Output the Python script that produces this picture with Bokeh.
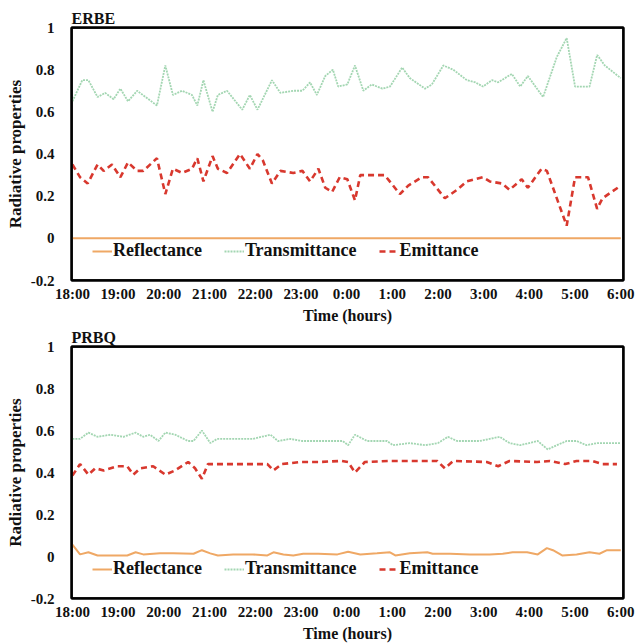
from bokeh.plotting import figure
from bokeh.models import FixedTicker, Range1d, ColumnDataSource, LinearAxis, Span
from bokeh.layouts import column
from bokeh.embed import file_html
from bokeh.resources import INLINE

# ---------------- data ----------------
hour_ticks = [0, 1, 2, 3, 4, 5, 6, 7, 8, 9, 10, 11, 12]
hour_labels = ["18:00", "19:00", "20:00", "21:00", "22:00", "23:00", "0:00",
               "1:00", "2:00", "3:00", "4:00", "5:00", "6:00"]
y_ticks = [-0.2, 0.0, 0.2, 0.4, 0.6, 0.8, 1.0]
y_labels = ["-0.2", "0", "0.2", "0.4", "0.6", "0.8", "1"]
series_names = ["Reflectance", "Transmittance", "Emittance"]

# ERBE (minutes after 18:00)
erbe_refl_t = [0, 60, 120, 180, 240, 300, 360, 420, 480, 540, 600, 660, 720]
erbe_refl_v = [0.0, 0.0, 0.0, 0.0, 0.0, 0.0, 0.0, 0.0, 0.0, 0.0, 0.0, 0.0, 0.0]

erbe_trans_t = [0, 13, 21, 33, 43, 54, 63, 73, 85, 111, 122, 132, 144, 157, 164, 172,
                184, 191, 203, 223, 233, 243, 262, 273, 290, 302, 312, 321, 332, 342,
                349, 361, 371, 382, 393, 407, 417, 433, 443, 463, 472, 487, 500, 518,
                529, 539, 551, 559, 577, 588, 598, 618, 636, 649, 660, 679, 689, 699, 720]
erbe_trans_v = [0.65, 0.75, 0.75, 0.67, 0.69, 0.66, 0.71, 0.65, 0.70, 0.63, 0.82, 0.68,
                0.70, 0.68, 0.63, 0.75, 0.60, 0.68, 0.70, 0.61, 0.68, 0.61, 0.75, 0.69,
                0.70, 0.70, 0.74, 0.68, 0.77, 0.80, 0.72, 0.73, 0.82, 0.70, 0.73, 0.71,
                0.72, 0.81, 0.76, 0.71, 0.73, 0.82, 0.80, 0.75, 0.74, 0.72, 0.75, 0.74,
                0.78, 0.72, 0.77, 0.67, 0.86, 0.95, 0.72, 0.72, 0.87, 0.82, 0.76]

erbe_emit_t = [0, 10, 20, 33, 41, 52, 63, 73, 85, 93, 111, 122, 132, 144, 157, 164, 172,
               184, 191, 203, 220, 233, 243, 250, 262, 273, 290, 302, 312, 323, 332, 341,
               351, 361, 371, 378, 384, 397, 410, 430, 441, 459, 467, 489, 505, 518, 539,
               548, 564, 574, 590, 598, 616, 623, 649, 660, 677, 689, 696, 720]
erbe_emit_v = [0.35, 0.29, 0.26, 0.35, 0.32, 0.35, 0.29, 0.36, 0.32, 0.32, 0.38, 0.21,
               0.33, 0.31, 0.33, 0.38, 0.27, 0.39, 0.33, 0.31, 0.40, 0.33, 0.40, 0.37,
               0.26, 0.32, 0.31, 0.32, 0.27, 0.33, 0.24, 0.22, 0.29, 0.28, 0.18, 0.30,
               0.30, 0.30, 0.30, 0.21, 0.25, 0.29, 0.29, 0.19, 0.23, 0.27, 0.29, 0.27,
               0.26, 0.23, 0.28, 0.24, 0.33, 0.32, 0.06, 0.29, 0.29, 0.14, 0.19, 0.25]

# PRBQ (minutes after 18:00)
prbq_refl_t = [0, 10, 21, 33, 54, 72, 83, 93, 115, 132, 159, 170, 181, 191, 211, 237,
               256, 264, 277, 290, 303, 323, 348, 362, 378, 400, 417, 424, 443, 466,
               473, 496, 522, 548, 565, 578, 597, 611, 623, 631, 643, 662, 679, 692, 702, 720]
prbq_refl_v = [0.056, 0.01, 0.02, 0.005, 0.005, 0.005, 0.02, 0.01, 0.015, 0.015,
               0.013, 0.03, 0.015, 0.005, 0.01, 0.01, 0.005, 0.02, 0.01, 0.005,
               0.013, 0.013, 0.01, 0.023, 0.01, 0.015, 0.02, 0.005, 0.015, 0.02,
               0.013, 0.013, 0.01, 0.01, 0.013, 0.02, 0.02, 0.01, 0.04, 0.03,
               0.005, 0.01, 0.02, 0.013, 0.03, 0.03]

prbq_trans_t = [0, 10, 21, 33, 50, 67, 83, 93, 102, 113, 122, 135, 152, 159, 170, 181,
                190, 211, 237, 260, 270, 286, 302, 323, 334, 355, 362, 371, 387, 413,
                421, 443, 463, 480, 493, 505, 535, 561, 574, 588, 611, 624, 636, 649,
                662, 675, 689, 720]
prbq_trans_v = [0.56, 0.56, 0.59, 0.57, 0.58, 0.57, 0.59, 0.57, 0.58, 0.55, 0.59, 0.58,
                0.55, 0.55, 0.60, 0.54, 0.56, 0.56, 0.56, 0.58, 0.55, 0.56, 0.55, 0.55,
                0.55, 0.55, 0.53, 0.58, 0.55, 0.55, 0.53, 0.54, 0.53, 0.54, 0.57, 0.55,
                0.55, 0.57, 0.54, 0.53, 0.55, 0.51, 0.53, 0.55, 0.55, 0.53, 0.54, 0.54]

prbq_emit_t = [0, 10, 21, 30, 41, 59, 72, 80, 89, 106, 122, 135, 152, 161, 170, 178,
               203, 237, 256, 264, 275, 299, 323, 354, 362, 371, 384, 417, 479, 489,
               500, 544, 559, 574, 610, 627, 647, 662, 683, 696, 715]
prbq_emit_v = [0.385, 0.44, 0.39, 0.42, 0.41, 0.43, 0.43, 0.39, 0.42, 0.43, 0.39, 0.41,
               0.45, 0.42, 0.37, 0.44, 0.44, 0.44, 0.44, 0.41, 0.44, 0.45, 0.45, 0.455,
               0.45, 0.40, 0.45, 0.455, 0.455, 0.42, 0.455, 0.45, 0.43, 0.455, 0.45,
               0.455, 0.44, 0.455, 0.455, 0.44, 0.44]

# ---------------- styling ----------------
FONT = "Liberation Serif"
C_REFL = "#EFA865"
C_TRANS = "#A3D6B2"
C_EMIT = "#D8382E"
TXT = "#111111"
FRAME = "black"


def panel(name, refl, trans, emit, border_top, border_bottom, height):
    xr = Range1d(-0.02, 12.06)
    yr = Range1d(-0.2, 1.0)
    p = figure(width=635, height=height, output_backend="svg", toolbar_location=None,
               x_range=xr, y_range=yr,
               min_border_left=71, min_border_right=12,
               min_border_top=border_top, min_border_bottom=border_bottom)
    p.background_fill_color = "white"
    p.border_fill_color = "white"
    p.outline_line_color = FRAME
    p.outline_line_width = 2
    p.outline_line_alpha = 1
    p.grid.visible = False

    # default bottom and left axes
    xa = p.below[0]
    ya = p.left[0]

    p.title.text = name
    p.title.align = "left"
    p.title.text_font = FONT
    p.title.text_font_style = "bold"
    p.title.text_font_size = "16px"
    p.title.text_color = TXT
    p.title.standoff = 1
    p.title.offset = 0

    srcs = []
    for (t, v) in (refl, trans, emit):
        srcs.append(ColumnDataSource(dict(x=[m / 60 for m in t], y=v)))

    p.line("x", "y", source=srcs[0], line_color=C_REFL, line_width=2,
           legend_label=series_names[0])
    p.line("x", "y", source=srcs[1], line_color=C_TRANS, line_width=1.8,
           line_dash="2 1", legend_label=series_names[1])
    p.line("x", "y", source=srcs[2], line_color=C_EMIT, line_width=2.6,
           line_dash="6 4", legend_label=series_names[2])

    # frame drawn along the range limits
    for loc, dim in ((yr.start, "width"), (yr.end, "width"),
                     (xr.start, "height"), (xr.end, "height")):
        p.add_layout(Span(location=loc, dimension=dim, line_color=FRAME,
                          line_width=2.5, level="overlay"))

    # frame edges on the right and top: label-less axes
    for side in ("right", "above"):
        ax = LinearAxis(ticker=FixedTicker(ticks=[]), axis_line_color=FRAME,
                        axis_line_width=2, major_tick_line_color=None,
                        minor_tick_line_color=None, major_label_text_font_size="0px",
                        major_label_standoff=0)
        p.add_layout(ax, side)

    xa.ticker = FixedTicker(ticks=hour_ticks)
    xa.major_label_overrides = {t: lab for t, lab in zip(hour_ticks, hour_labels)}
    xa.axis_label = "Time (hours)"
    ya.ticker = FixedTicker(ticks=y_ticks)
    ya.major_label_overrides = {t: lab for t, lab in zip(y_ticks, y_labels)}
    ya.axis_label = "Radiative properties"
    for ax in (xa, ya):
        ax.axis_line_color = FRAME
        ax.axis_line_width = 2
        ax.major_tick_line_color = None
        ax.minor_tick_line_color = None
        ax.major_tick_out = 0
        ax.major_tick_in = 0
        ax.major_label_text_font = FONT
        ax.major_label_text_font_style = "bold"
        ax.major_label_text_font_size = "15px"
        ax.major_label_text_color = TXT
        ax.axis_label_text_font = FONT
        ax.axis_label_text_font_style = "bold"
        ax.axis_label_text_color = TXT
    xa.major_label_standoff = 5
    xa.axis_label_standoff = 2
    xa.axis_label_text_font_size = "16px"
    ya.major_label_standoff = 17
    ya.axis_label_standoff = 3
    ya.axis_label_text_font_size = "17px"

    lg = p.legend[0]
    lg.orientation = "horizontal"
    lg.location = (21, 19)
    lg.padding = 0
    lg.margin = 0
    lg.spacing = 22
    lg.label_standoff = 1
    lg.glyph_width = 20
    lg.glyph_height = 20
    lg.label_height = 20
    lg.label_text_font = FONT
    lg.label_text_font_style = "bold"
    lg.label_text_font_size = "18px"
    lg.label_text_color = TXT
    lg.background_fill_alpha = 0
    lg.border_line_color = None
    return p


p1 = panel("ERBE", (erbe_refl_t, erbe_refl_v), (erbe_trans_t, erbe_trans_v),
           (erbe_emit_t, erbe_emit_v), 27, 44, 326)
p2 = panel("PRBQ", (prbq_refl_t, prbq_refl_v), (prbq_trans_t, prbq_trans_v),
           (prbq_emit_t, prbq_emit_v), 20, 42, 318)

layout = column(p1, p2, spacing=0)
open("out.html", "w").write(file_html(layout, INLINE))
